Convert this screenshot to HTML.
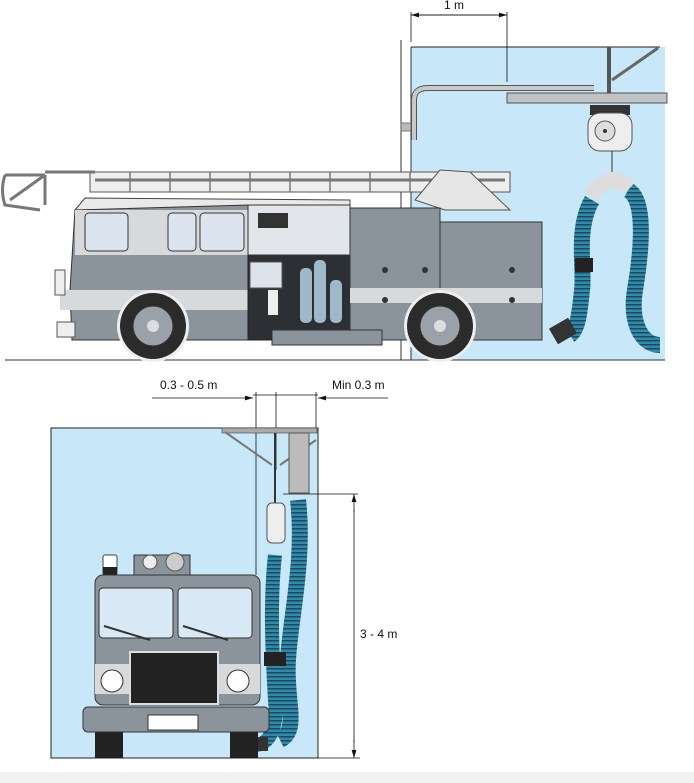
<!DOCTYPE html>
<html><head><meta charset="utf-8"><style>
html,body{margin:0;padding:0;background:#fff;width:694px;height:783px;overflow:hidden}
text{font-family:"Liberation Sans",sans-serif;font-size:12px;fill:#111}
</style></head><body>
<svg width="694" height="783" viewBox="0 0 694 783" xmlns="http://www.w3.org/2000/svg">
<defs>
<pattern id="hose" width="4" height="4" patternUnits="userSpaceOnUse"><rect width="4" height="4" fill="#3589a8"/><rect width="4" height="1.5" fill="#174c63"/></pattern>
<marker id="ar" markerWidth="10" markerHeight="6" refX="10" refY="3" orient="auto"><path d="M0,0 L10,3 L0,6z" fill="#111"/></marker>
</defs>
<rect x="0" y="772" width="694" height="11" fill="#f1f1f1"/>
<!-- TOP SCENE -->
<rect x="411" y="47" width="254" height="313" fill="#c8e7f8"/>
<line x1="411" y1="47" x2="660" y2="47" stroke="#222" stroke-width="1"/>
<line x1="401" y1="40" x2="401" y2="360" stroke="#333"/>
<line x1="411" y1="47" x2="411" y2="360" stroke="#333"/>
<rect x="401" y="123" width="10" height="8" fill="#bbb" stroke="#555" stroke-width=".7"/>
<line x1="411" y1="12" x2="411" y2="42" stroke="#111" stroke-width=".8"/>
<line x1="507" y1="12" x2="507" y2="82" stroke="#111" stroke-width=".8"/>
<line x1="411" y1="15" x2="507" y2="15" stroke="#111" stroke-width=".8" marker-end="url(#ar)"/>
<line x1="507" y1="15" x2="411" y2="15" stroke="#111" stroke-width=".8" marker-end="url(#ar)"/>
<text x="444" y="9">1 m</text>
<path d="M414,140 V100 Q414,88 428,88 H594" fill="none" stroke="#555" stroke-width="6"/>
<path d="M414,140 V100 Q414,88 428,88 H594" fill="none" stroke="#c9c9c9" stroke-width="4"/>
<rect x="507" y="93" width="160" height="10" fill="#bfc3c6" stroke="#333" stroke-width=".8"/>
<line x1="609" y1="47" x2="609" y2="93" stroke="#555" stroke-width="4"/>
<line x1="612" y1="80" x2="658" y2="48" stroke="#666" stroke-width="3"/>
<rect x="590" y="105" width="40" height="10" fill="#333"/>
<rect x="588" y="113" width="44" height="38" rx="12" fill="#eee" stroke="#555"/>
<circle cx="605" cy="131" r="10" fill="#ddd" stroke="#555"/>
<circle cx="605" cy="131" r="2" fill="#333"/>
<line x1="612" y1="151" x2="612" y2="172" stroke="#333"/>
<path d="M592,200 C575,230 585,270 582,290 C580,310 578,330 570,335" fill="none" stroke="url(#hose)" stroke-width="16"/>
<path d="M628,190 C648,200 640,260 635,290 C630,320 640,345 660,345" fill="none" stroke="url(#hose)" stroke-width="16"/>
<path d="M590,196 Q610,170 630,188" fill="none" stroke="#ddd" stroke-width="16"/>
<rect x="575" y="258" width="18" height="14" fill="#222"/>
<rect x="552" y="322" width="22" height="18" fill="#333" transform="rotate(-30 563 331)"/>
<line x1="5" y1="360" x2="665" y2="360" stroke="#333" stroke-width="1"/>
<!-- ladder -->
<rect x="90" y="172" width="420" height="20" fill="#eee" stroke="#555"/>
<g stroke="#777" stroke-width="1.5">
<line x1="130" y1="172" x2="130" y2="192"/><line x1="170" y1="172" x2="170" y2="192"/><line x1="210" y1="172" x2="210" y2="192"/><line x1="250" y1="172" x2="250" y2="192"/><line x1="290" y1="172" x2="290" y2="192"/><line x1="330" y1="172" x2="330" y2="192"/><line x1="370" y1="172" x2="370" y2="192"/><line x1="410" y1="172" x2="410" y2="192"/>
</g>
<path d="M95,180 H505" stroke="#777" stroke-width="3"/>
<path d="M5,175 H45 M5,175 Q0,190 5,205 L40,210" fill="none" stroke="#777" stroke-width="3"/>
<line x1="45" y1="172" x2="95" y2="172" stroke="#777" stroke-width="3"/>
<line x1="10" y1="200" x2="45" y2="175" stroke="#777" stroke-width="3"/>
<line x1="45" y1="175" x2="45" y2="205" stroke="#777" stroke-width="3"/>
<polygon points="415,200 440,170 470,172 510,210 445,210" fill="#e6e6e6" stroke="#555"/>
<!-- body -->
<polygon points="75,210 85,198 350,200 350,210" fill="#e9e9e9" stroke="#444"/>
<polygon points="70,290 75,210 248,205 248,340 72,340" fill="#8b949c" stroke="#333"/>
<rect x="60" y="290" width="190" height="20" fill="#d7d9db"/>
<rect x="75" y="210" width="173" height="45" fill="#d7d9db"/>
<rect x="85" y="213" width="43" height="38" rx="4" fill="#dbe4ee" stroke="#333"/>
<rect x="168" y="213" width="28" height="38" rx="4" fill="#dbe4ee" stroke="#333"/>
<rect x="200" y="213" width="44" height="38" rx="4" fill="#dbe4ee" stroke="#333"/>
<rect x="248" y="205" width="102" height="135" fill="#2c2f33" stroke="#222"/>
<rect x="248" y="205" width="102" height="50" fill="#e2e6ea" stroke="#333"/>
<rect x="258" y="213" width="30" height="15" fill="#333"/>
<rect x="250" y="262" width="32" height="26" fill="#dde3ea" stroke="#555"/>
<rect x="300" y="268" width="12" height="55" rx="5" fill="#9fb9c8"/>
<rect x="314" y="260" width="12" height="63" rx="5" fill="#9fb9c8"/>
<rect x="330" y="280" width="12" height="43" rx="5" fill="#9fb9c8"/>
<rect x="268" y="290" width="10" height="25" fill="#eee"/>
<rect x="350" y="208" width="90" height="132" fill="#8b949c" stroke="#333"/>
<rect x="440" y="222" width="102" height="118" fill="#8b949c" stroke="#333"/>
<rect x="350" y="288" width="192" height="15" fill="#d7d9db"/>
<rect x="55" y="270" width="10" height="25" fill="#eee" stroke="#555"/>
<rect x="57" y="322" width="18" height="15" fill="#eee" stroke="#555"/>
<g fill="#333"><circle cx="385" cy="270" r="3"/><circle cx="425" cy="270" r="3"/><circle cx="512" cy="270" r="3"/><circle cx="385" cy="300" r="3"/><circle cx="512" cy="300" r="3"/></g>
<rect x="272" y="330" width="110" height="15" fill="#8b949c" stroke="#333"/>
<g><circle cx="153" cy="326" r="36" fill="#eee"/><circle cx="153" cy="326" r="33" fill="#2b2b2b"/><circle cx="153" cy="326" r="20" fill="#9aa1a8" stroke="#333"/><circle cx="153" cy="326" r="6" fill="#ddd"/></g>
<g><circle cx="440" cy="326" r="36" fill="#eee"/><circle cx="440" cy="326" r="33" fill="#2b2b2b"/><circle cx="440" cy="326" r="20" fill="#9aa1a8" stroke="#333"/><circle cx="440" cy="326" r="6" fill="#ddd"/></g>
<!-- BOTTOM SCENE -->
<rect x="51" y="428" width="267" height="330" fill="#c8e7f8" stroke="#222"/>
<line x1="152" y1="398" x2="253" y2="398" stroke="#111" stroke-width=".8" marker-end="url(#ar)"/>
<line x1="388" y1="398" x2="318" y2="398" stroke="#111" stroke-width=".8" marker-end="url(#ar)"/>
<line x1="253" y1="395" x2="318" y2="395" stroke="#111" stroke-width=".8"/>
<line x1="256" y1="392" x2="256" y2="575" stroke="#111" stroke-width=".8"/>
<line x1="276" y1="392" x2="276" y2="470" stroke="#111" stroke-width=".8"/>
<line x1="316" y1="392" x2="316" y2="428" stroke="#111" stroke-width=".8"/>
<text x="160" y="389">0.3 - 0.5 m</text>
<text x="332" y="389">Min 0.3 m</text>
<line x1="283" y1="494" x2="358" y2="494" stroke="#111" stroke-width=".8"/>
<line x1="318" y1="758" x2="360" y2="758" stroke="#111" stroke-width=".8"/>
<line x1="354" y1="512" x2="354" y2="494" stroke="#111" stroke-width=".8" marker-end="url(#ar)"/>
<line x1="354" y1="740" x2="354" y2="758" stroke="#111" stroke-width=".8" marker-end="url(#ar)"/>
<line x1="354" y1="510" x2="354" y2="742" stroke="#111" stroke-width=".8"/>
<text x="360" y="638">3 - 4 m</text>
<rect x="222" y="428" width="95" height="5" fill="#aaa" stroke="#444" stroke-width=".6"/>
<line x1="225" y1="432" x2="272" y2="465" stroke="#777" stroke-width="2"/>
<line x1="316" y1="440" x2="280" y2="465" stroke="#777" stroke-width="2"/>
<rect x="289" y="433" width="20" height="60" fill="#bbb" stroke="#555"/>
<line x1="275" y1="433" x2="275" y2="505" stroke="#333" stroke-width="2"/>
<rect x="267" y="503" width="18" height="40" rx="5" fill="#eee" stroke="#555"/>
<path d="M298,500 C305,560 290,620 288,660 C285,700 300,730 280,740" fill="none" stroke="url(#hose)" stroke-width="16"/>
<path d="M275,555 C270,600 272,650 275,700 C278,730 268,745 255,745" fill="none" stroke="url(#hose)" stroke-width="14"/>
<rect x="264" y="652" width="22" height="14" fill="#222"/>
<rect x="248" y="737" width="20" height="14" fill="#333"/>
<rect x="134" y="555" width="56" height="20" fill="#8b949c" stroke="#333"/>
<circle cx="150" cy="562" r="7" fill="#eee" stroke="#555"/>
<circle cx="175" cy="562" r="9" fill="#ccc" stroke="#555"/>
<rect x="103" y="555" width="14" height="20" rx="2" fill="#fff" stroke="#444"/>
<rect x="103" y="567" width="14" height="8" fill="#222"/>
<rect x="95" y="575" width="165" height="130" rx="8" fill="#8b949c" stroke="#333"/>
<rect x="99" y="588" width="74" height="50" rx="4" fill="#d9e8f5" stroke="#333"/>
<rect x="178" y="588" width="74" height="50" rx="4" fill="#d9e8f5" stroke="#333"/>
<line x1="104" y1="626" x2="150" y2="640" stroke="#333" stroke-width="2"/>
<line x1="183" y1="626" x2="228" y2="640" stroke="#333" stroke-width="2"/>
<rect x="95" y="664" width="165" height="30" fill="#d7d9db"/>
<rect x="130" y="652" width="88" height="52" fill="#222" stroke="#ddd" stroke-width="2"/>
<circle cx="112" cy="681" r="11" fill="#fff" stroke="#333"/>
<circle cx="238" cy="681" r="11" fill="#fff" stroke="#333"/>
<rect x="83" y="707" width="186" height="25" rx="5" fill="#8b949c" stroke="#333"/>
<rect x="148" y="715" width="50" height="15" fill="#fff" stroke="#333"/>
<rect x="95" y="732" width="28" height="26" fill="#222"/>
<rect x="230" y="732" width="28" height="26" fill="#222"/>
</svg>
</body></html>
